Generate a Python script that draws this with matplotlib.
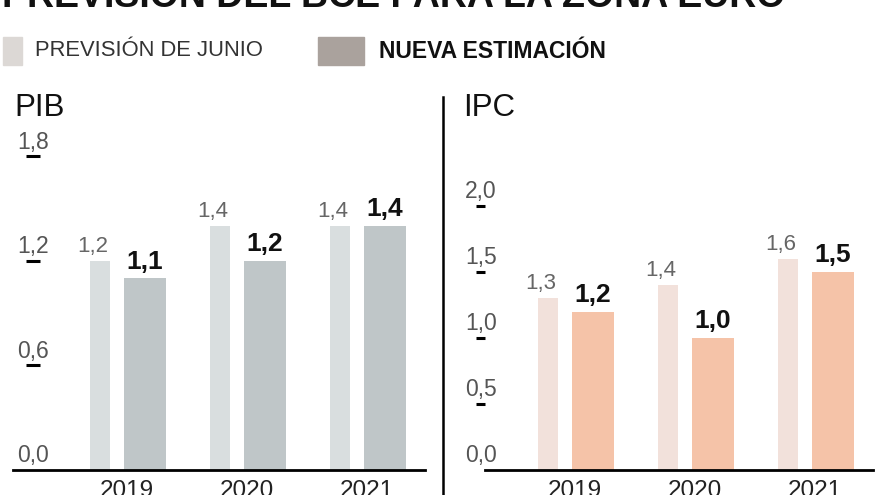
import matplotlib
matplotlib.use("Agg")
import matplotlib.pyplot as plt
from matplotlib.lines import Line2D
from matplotlib.patches import Rectangle
import numpy as np

plt.rcParams["font.family"] = ["Liberation Sans", "DejaVu Sans"]

# data
YEARS = ["2019", "2020", "2021"]
PIB_JUNIO = [1.2, 1.4, 1.4]
PIB_NUEVA = [1.1, 1.2, 1.4]
IPC_JUNIO = [1.3, 1.4, 1.6]
IPC_NUEVA = [1.2, 1.0, 1.5]
PIB_TICKS = [0.0, 0.6, 1.2, 1.8]
IPC_TICKS = [0.0, 0.5, 1.0, 1.5, 2.0]

TITLE = "PREVISIÓN DEL BCE PARA LA ZONA EURO"
LEGEND_JUNIO = "PREVISIÓN DE JUNIO"
LEGEND_NUEVA = "NUEVA ESTIMACIÓN"

W, H = 880, 495


def fx(px):
    return px / W


def fy(py):
    return 1 - py / H


def fmt(v):
    return f"{v:.1f}".replace(".", ",")


def draw_panel(ax, junio, nueva, ticks, ylim, xlim, colors, tick_x, dash_x):
    x = np.arange(len(YEARS))
    off_l, w_l = -27 / 120, 20 / 120
    off_d, w_d = 18 / 120, 42 / 120
    ax.bar(x + off_l, junio, width=w_l, color=colors[0], zorder=2)
    ax.bar(x + off_d, nueva, width=w_d, color=colors[1], zorder=2)

    for xi, v in zip(x, junio):
        ax.annotate(fmt(v), (xi + off_l, v), xytext=(-5, 6.5), textcoords="offset points",
                    ha="center", va="baseline", fontsize=16, color="#666666")
    for xi, v in zip(x, nueva):
        ax.annotate(fmt(v), (xi + off_d, v), xytext=(0, 7), textcoords="offset points",
                    ha="center", va="baseline", fontsize=19, fontweight="bold", color="#111111")

    # y labels sit above a short dash
    for t in ticks:
        ax.annotate(fmt(t), (tick_x, t), xycoords=("axes fraction", "data"),
                    xytext=(0, 5.5), textcoords="offset points",
                    ha="left", va="baseline", fontsize=16.5, color="#555555")
        if t > 0:
            ax.plot(dash_x, [t, t], color="black", lw=2.2, solid_capstyle="butt",
                    transform=ax.get_yaxis_transform(), clip_on=False)

    ax.set_xlim(*xlim)
    ax.set_ylim(*ylim)
    ax.set_yticks([])
    ax.set_xticks(x, YEARS)
    ax.tick_params(axis="x", length=0, pad=7, labelsize=17.5, labelcolor="#222222")
    for side in ["left", "right", "top"]:
        ax.spines[side].set_visible(False)
    ax.spines["bottom"].set_linewidth(2)
    ax.spines["bottom"].set_color("black")
    ax.patch.set_alpha(0)


fig = plt.figure(figsize=(W / 100, H / 100), dpi=100)

ax_pib = fig.add_axes([fx(13), fy(470), (425 - 13) / W, (470 - 130) / H])
ax_ipc = fig.add_axes([fx(485), fy(470), (873 - 485) / W, (470 - 130) / H])

draw_panel(ax_pib, PIB_JUNIO, PIB_NUEVA, PIB_TICKS,
           ylim=(0, 340 / 174.2), xlim=(-113.5 / 120, (412 - 113.5) / 120),
           colors=("#d9dedf", "#bfc6c8"), tick_x=(17 - 13) / 412,
           dash_x=[13 / 412, 27 / 412])
draw_panel(ax_ipc, IPC_JUNIO, IPC_NUEVA, IPC_TICKS,
           ylim=(0, 340 / 132), xlim=(-90 / 120, (388 - 90) / 120),
           colors=("#f2e1db", "#f5c3a8"), tick_x=(465 - 485) / 388,
           dash_x=[-9 / 388, 0])

# title (cut at the top like the source)
fig.text(fx(2), fy(7), TITLE, fontsize=27, fontweight="bold", color="#111111", va="baseline")

# legend
fig.patches.append(Rectangle((fx(3), fy(65)), 19 / W, 28 / H, transform=fig.transFigure,
                             color="#dcd8d5", figure=fig))
fig.text(fx(35), fy(51), LEGEND_JUNIO, fontsize=15.8, color="#333333", va="center")
fig.patches.append(Rectangle((fx(318), fy(65)), 46 / W, 28 / H, transform=fig.transFigure,
                             color="#aaa29d", figure=fig))
fig.text(fx(379), fy(51), LEGEND_NUEVA, fontsize=16.5, fontweight="bold", color="#111111", va="center")

# panel titles
fig.text(fx(14), fy(116), "PIB", fontsize=22.5, color="#111111", va="baseline")
fig.text(fx(463), fy(116), "IPC", fontsize=22.5, color="#111111", va="baseline")

# divider between panels
fig.add_artist(Line2D([fx(443), fx(443)], [fy(97), 0], transform=fig.transFigure,
                      color="black", lw=1.8))

fig.savefig("out.png", dpi=100)
